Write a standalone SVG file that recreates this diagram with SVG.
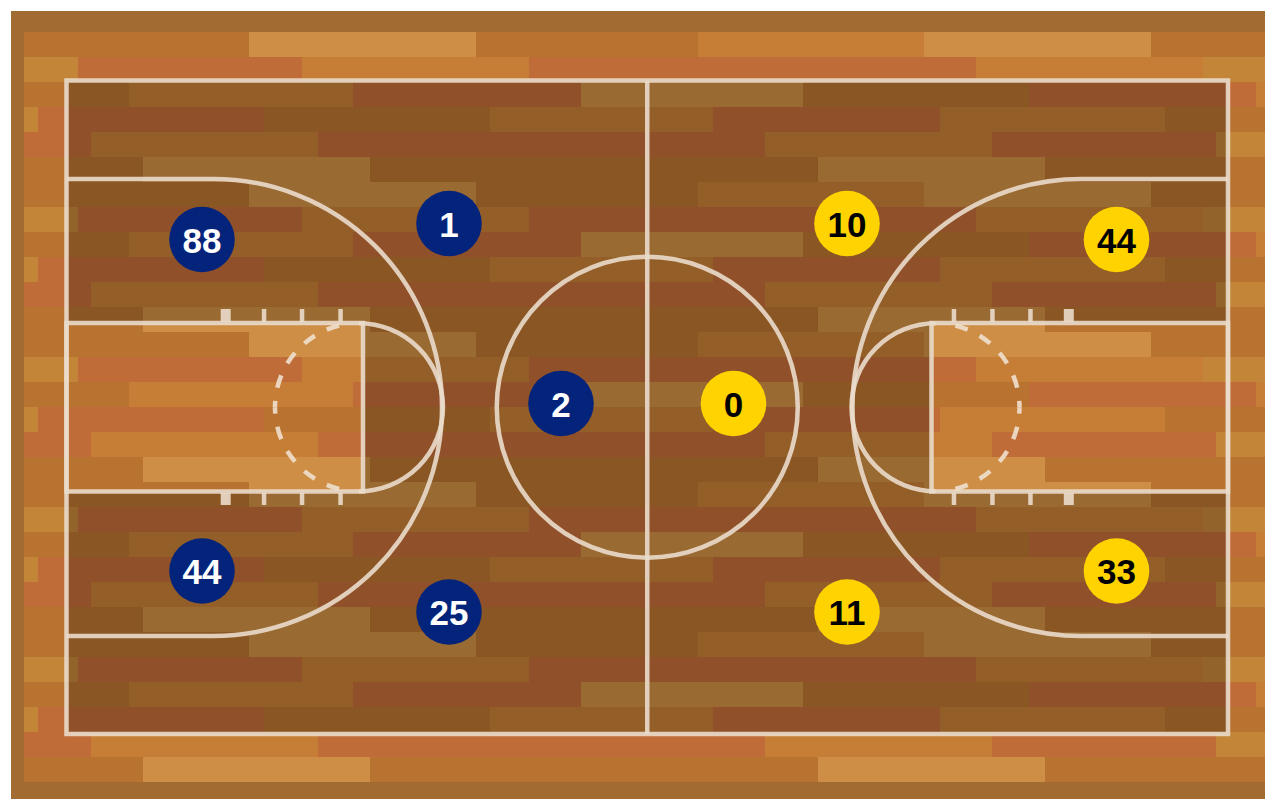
<svg xmlns="http://www.w3.org/2000/svg" xmlns:xlink="http://www.w3.org/1999/xlink" width="1265" height="799" viewBox="0 0 1265 799">
<style>
.B{fill:#B87330}.L{fill:#CE8E45}.R{fill:#C06C38}.O{fill:#C67E36}.Y{fill:#C38538}
.ln{fill:none;stroke:#EADCCB;stroke-opacity:0.9;stroke-width:4.5}
.dash{fill:none;stroke:#F0E0CE;stroke-opacity:0.9;stroke-width:4.5;stroke-dasharray:13 13.3;stroke-dashoffset:6.5}
.tick{fill:#EADCCB;fill-opacity:0.9}
.blue circle{fill:#03247A}.blue text{fill:#FFFFFF}
.gold circle{fill:#FED300}.gold text{fill:#000000}
.num{font-family:"Liberation Sans",Arial,sans-serif;font-weight:bold;font-size:35px;text-anchor:middle}
</style>
<defs>
<g id="rows">
<rect class="B" x="24" y="0" width="225" height="25"/><rect class="L" x="249" y="0" width="227" height="25"/><rect class="B" x="476" y="0" width="222" height="25"/><rect class="O" x="698" y="0" width="226" height="25"/><rect class="L" x="924" y="0" width="227" height="25"/><rect class="B" x="1151" y="0" width="114" height="25"/>
<rect class="Y" x="24" y="25" width="54" height="25"/><rect class="R" x="78" y="25" width="224" height="25"/><rect class="O" x="302" y="25" width="227" height="25"/><rect class="R" x="529" y="25" width="447" height="25"/><rect class="O" x="976" y="25" width="227" height="25"/><rect class="Y" x="1203" y="25" width="62" height="25"/>
<rect class="B" x="24" y="50" width="105" height="25"/><rect class="O" x="129" y="50" width="224" height="25"/><rect class="R" x="353" y="50" width="228" height="25"/><rect class="L" x="581" y="50" width="222" height="25"/><rect class="B" x="803" y="50" width="226" height="25"/><rect class="R" x="1029" y="50" width="227" height="25"/><rect class="O" x="1256" y="50" width="9" height="25"/>
<rect class="Y" x="24" y="75" width="14" height="25"/><rect class="R" x="38" y="75" width="226" height="25"/><rect class="B" x="264" y="75" width="226" height="25"/><rect class="O" x="490" y="75" width="223" height="25"/><rect class="R" x="713" y="75" width="227" height="25"/><rect class="O" x="940" y="75" width="225" height="25"/><rect class="B" x="1165" y="75" width="100" height="25"/>
<rect class="R" x="24" y="100" width="67" height="25"/><rect class="O" x="91" y="100" width="227" height="25"/><rect class="R" x="318" y="100" width="447" height="25"/><rect class="O" x="765" y="100" width="227" height="25"/><rect class="R" x="992" y="100" width="224" height="25"/><rect class="Y" x="1216" y="100" width="49" height="25"/>
<rect class="B" x="24" y="125" width="119" height="25"/><rect class="L" x="143" y="125" width="227" height="25"/><rect class="B" x="370" y="125" width="448" height="25"/><rect class="L" x="818" y="125" width="227" height="25"/><rect class="B" x="1045" y="125" width="220" height="25"/>
</g>
</defs>
<rect x="0" y="0" width="1265" height="799" fill="#FFFFFF"/>
<rect id="frame" x="11" y="11" width="1254" height="788" fill="#A16B31"/>
<g id="wood">
<use xlink:href="#rows" href="#rows" transform="translate(0,32)"/>
<use xlink:href="#rows" href="#rows" transform="translate(0,182)"/>
<use xlink:href="#rows" href="#rows" transform="translate(0,332)"/>
<use xlink:href="#rows" href="#rows" transform="translate(0,482)"/>
<use xlink:href="#rows" href="#rows" transform="translate(0,632)"/>
</g>
<path id="court-shade" fill="#000000" fill-opacity="0.25" fill-rule="evenodd" d="M66.5 80.5H1228V734H66.5Z M66.5 323H363V491.5H66.5Z M931.5 323H1228V491.5H931.5Z"/>
<g id="court-lines">
<rect class="ln" x="66.5" y="80.5" width="1161.5" height="653.5"/>
<path class="ln" d="M647.25 80.5V734"/>
<circle class="ln" cx="647.25" cy="407.25" r="150.5"/>
<rect class="ln" x="66.5" y="323" width="296.5" height="168.5"/>
<rect class="ln" x="931.5" y="323" width="296.5" height="168.5"/>
<path class="ln" d="M359 323.25A84 84 0 0 1 359 491.25"/>
<path class="ln" d="M935.5 323.25A84 84 0 0 0 935.5 491.25"/>
<path class="dash" d="M275 407.25A84 84 0 0 1 344.4 324.5"/>
<path class="dash" d="M275 407.25A84 84 0 0 0 344.4 490"/>
<path class="dash" d="M1019.5 407.25A84 84 0 0 0 950.1 324.5"/>
<path class="dash" d="M1019.5 407.25A84 84 0 0 1 950.1 490"/>
<path class="ln" d="M66.5 179H213.5A228.5 228.5 0 0 1 213.5 636H66.5"/>
<path class="ln" d="M1228 179H1081A228.5 228.5 0 0 0 1081 636H1228"/>
<rect class="tick" x="220.7" y="309" width="10" height="13"/>
<rect class="tick" x="261.8" y="309" width="4.5" height="13"/>
<rect class="tick" x="299.8" y="309" width="4.5" height="13"/>
<rect class="tick" x="338.3" y="309" width="4.5" height="13"/>
<rect class="tick" x="220.7" y="493" width="10" height="12"/>
<rect class="tick" x="261.8" y="493" width="4.5" height="12"/>
<rect class="tick" x="299.8" y="493" width="4.5" height="12"/>
<rect class="tick" x="338.3" y="493" width="4.5" height="12"/>
<rect class="tick" x="1063.8" y="309" width="10" height="13"/>
<rect class="tick" x="1028.2" y="309" width="4.5" height="13"/>
<rect class="tick" x="990.2" y="309" width="4.5" height="13"/>
<rect class="tick" x="951.7" y="309" width="4.5" height="13"/>
<rect class="tick" x="1063.8" y="493" width="10" height="12"/>
<rect class="tick" x="1028.2" y="493" width="4.5" height="12"/>
<rect class="tick" x="990.2" y="493" width="4.5" height="12"/>
<rect class="tick" x="951.7" y="493" width="4.5" height="12"/>
</g>
<g id="player-blue-88" class="blue"><circle cx="202" cy="239.5" r="32.8"/><text class="num" x="202" y="252.5">88</text></g>
<g id="player-blue-1" class="blue"><circle cx="449" cy="223.5" r="32.8"/><text class="num" x="449" y="236.5">1</text></g>
<g id="player-blue-2" class="blue"><circle cx="561" cy="403.5" r="32.8"/><text class="num" x="561" y="416.5">2</text></g>
<g id="player-blue-44" class="blue"><circle cx="202" cy="571" r="32.8"/><text class="num" x="202" y="584">44</text></g>
<g id="player-blue-25" class="blue"><circle cx="449" cy="612" r="32.8"/><text class="num" x="449" y="625">25</text></g>
<g id="player-gold-10" class="gold"><circle cx="847" cy="223.5" r="32.8"/><text class="num" x="847" y="236.5">10</text></g>
<g id="player-gold-0" class="gold"><circle cx="733.5" cy="403.5" r="32.8"/><text class="num" x="733.5" y="416.5">0</text></g>
<g id="player-gold-44" class="gold"><circle cx="1116.5" cy="239.5" r="32.8"/><text class="num" x="1116.5" y="252.5">44</text></g>
<g id="player-gold-33" class="gold"><circle cx="1116.5" cy="571" r="32.8"/><text class="num" x="1116.5" y="584">33</text></g>
<g id="player-gold-11" class="gold"><circle cx="847" cy="612" r="32.8"/><text class="num" x="847" y="625">11</text></g>
</svg>
